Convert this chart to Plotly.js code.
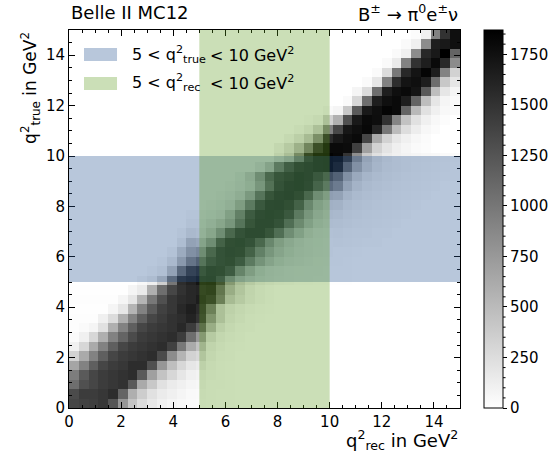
<!DOCTYPE html>
<html><head><meta charset="utf-8">
<script src="https://cdn.plot.ly/plotly-3.0.1.min.js"></script>
<style>html,body{margin:0;padding:0;background:#fff}#chart{width:550px;height:466px}</style>
</head><body><div id="chart"></div>
<script>
// ---- data ----
const nBins = 40;
const binWidth = 0.375;           // GeV^2, both axes 0..15
const trueWindow = [5, 10];       // blue band (q2_true)
const recWindow = [5, 10];        // green band (q2_rec)
const colorbarTicks = [0, 250, 500, 750, 1000, 1250, 1500, 1750];
const zMax = 1870;
// first non-empty rec bin of each q2_true row
const rowStart = [0,0,0,0,0,0,0,0,0,0,0,0,0,7,8,9,10,11,11,12,12,14,15,16,17,19,21,21,22,23,24,26,28,29,30,31,32,33,34,35];
// counts per row (q2_true bin), starting at rowStart
const rowValues = [
  [1356,1393,1415,1466,1246,770,440,257,169,110,73,51,37,30,15,10,5],
  [1319,1429,1429,1466,1539,1136,586,367,220,147,110,73,45,40,20,10,5],
  [1063,1283,1356,1429,1466,1503,1209,623,403,220,147,110,73,60,25,12,5],
  [953,1209,1356,1429,1466,1503,1539,1209,696,440,293,183,110,90,35,15,6],
  [660,916,1173,1356,1429,1466,1539,1539,1283,770,477,293,183,150,50,20,8],
  [330,623,916,1173,1356,1429,1466,1503,1539,1319,843,550,330,279,80,30,12],
  [110,293,623,916,1173,1356,1429,1466,1503,1539,1393,990,623,447,120,50,20,8],
  [37,110,293,586,916,1136,1319,1429,1466,1503,1539,1429,1063,755,220,90,40,15],
  [15,37,73,220,586,916,1173,1356,1429,1466,1503,1576,1429,1180,542,170,70,30,12],
  [15,15,15,110,257,586,916,1173,1356,1429,1503,1539,1613,1496,807,330,120,60,25,10],
  [7,7,7,7,73,183,550,916,1209,1393,1466,1576,1649,1554,1019,330,150,80,40,20,10],
  [15,15,15,15,15,73,183,550,990,1283,1466,1539,1576,1657,1554,1019,381,220,110,50,25],
  [5,5,5,5,5,5,73,147,586,1063,1356,1503,1576,1605,1657,1129,542,279,117,50,25],
  [50,120,360,1000,1540,1620,1720,1750,1450,750,380,220,130,80,50,35,25,15,10,8,6,4],
  [30,80,400,1050,1440,1550,1720,1700,1500,850,450,200,110,70,45,30,20,15,10,8,6],
  [30,150,500,900,1100,1500,1650,1700,1500,1000,600,350,200,120,80,50,30,20,15,10],
  [50,300,600,700,1300,1650,1720,1700,1400,900,550,320,190,120,80,50,35,25,15,10],
  [100,400,350,700,1400,1700,1740,1650,1300,800,450,260,150,90,60,45,50,40,30,25,20],
  [40,150,120,300,700,1300,1650,1750,1760,1600,1200,700,400,170,80,60,70,55,45,35,25,18],
  [60,60,150,300,550,1100,1600,1750,1760,1650,1200,750,400,200,120,100,80,60,50,40,30,20],
  [30,30,60,120,400,900,1500,1720,1770,1740,1550,1000,550,280,170,150,100,80,60,50,40,30,20],
  [30,60,150,450,1000,1550,1750,1780,1700,1400,800,400,250,230,140,100,80,60,50,40,30,20],
  [30,70,180,500,1100,1600,1760,1790,1700,1300,700,450,400,220,140,100,80,60,50,40,30,20],
  [30,80,200,550,1150,1650,1780,1800,1720,1350,1000,830,400,220,140,100,80,60,50,40,30,20],
  [60,250,700,1300,1600,1700,1800,1750,1550,1300,1100,600,330,200,140,100,80,65,50,40,30,25,20],
  [100,350,1000,1450,1700,1750,1820,1850,1700,1100,600,330,190,130,100,80,60,50,40,30,25],
  [150,350,900,1600,1820,1850,1815,1488,830,396,227,150,110,90,70,60,50,40,30],
  [80,220,490,967,1554,1800,1800,1780,1400,700,330,200,120,70,40,20],
  [60,169,381,858,1554,1686,1759,1796,1356,623,330,183,110,60,30],
  [40,117,330,916,1350,1700,1760,1810,1600,1000,500,250,130,60,30],
  [20,66,330,570,1283,1686,1796,1770,1500,900,450,220,110,55,25],
  [40,73,403,1209,1686,1759,1833,1796,1136,513,220,110,51,37],
  [37,293,1063,1649,1759,1796,1649,1136,477,183,73,37],
  [73,257,1063,1649,1759,1796,1723,1209,477,183,73],
  [37,183,916,1539,1723,1759,1649,1063,403,183],
  [37,257,990,1576,1723,1833,1649,916,330],
  [37,147,916,1503,1649,1796,1576,843],
  [40,110,843,1576,1686,1870,1136],
  [37,110,843,1649,1686,1759],
  [20,110,916,1503,1759]
];
const axisTicks = [0, 2, 4, 6, 8, 10, 12, 14];

// ---- build matrix ----
const z = rowValues.map((vals, i) => {
  const row = new Array(nBins).fill(0);
  vals.forEach((v, k) => { row[rowStart[i] + k] = v; });
  return row;
});

const FONT = 'DejaVu Sans, Liberation Sans, sans-serif';
const blueFill = 'rgba(40,85,145,0.33)';
const greenFill = 'rgba(94,156,31,0.32)';

const trace = {
  type: 'heatmap', z: z,
  x0: binWidth / 2, dx: binWidth, y0: binWidth / 2, dy: binWidth,
  zmin: 0, zmax: zMax, zsmooth: false,
  colorscale: [[0, '#ffffff'], [1, '#000000']],
  hoverinfo: 'skip',
  colorbar: {
    x: 1.0614, xanchor: 'left', xref: 'paper', y: 0.5, yanchor: 'middle',
    len: 1, lenmode: 'fraction', thickness: 19, thicknessmode: 'pixels',
    xpad: 0, ypad: 0, outlinewidth: 1, outlinecolor: 'black',
    tickmode: 'array', tickvals: colorbarTicks, ticks: 'outside', ticklen: 4,
    tickwidth: 1, tickcolor: 'black', tickfont: {family: FONT, size: 15, color: 'black'}
  }
};

const axisCommon = {
  range: [0, 15], tickmode: 'array', tickvals: axisTicks, ticks: 'inside',
  ticklen: 6, tickwidth: 1, tickcolor: 'black', showline: true, linecolor: 'black',
  linewidth: 1, mirror: 'allticks', showgrid: false, zeroline: false,
  tickfont: {family: FONT, size: 15, color: 'black'},
  minor: {dtick: 0.5, tick0: 0, ticks: 'inside', ticklen: 3, tickwidth: 1, tickcolor: 'black', showgrid: false}
};

const shapes = [
  {type: 'rect', xref: 'paper', x0: 0, x1: 1, yref: 'y', y0: trueWindow[0], y1: trueWindow[1],
   fillcolor: blueFill, line: {width: 0}, layer: 'above'},
  {type: 'rect', xref: 'x', x0: recWindow[0], x1: recWindow[1], yref: 'paper', y0: 0, y1: 1,
   fillcolor: greenFill, line: {width: 0}, layer: 'above'},
  // legend patches
  {type: 'rect', xref: 'paper', yref: 'paper', x0: 0.0384, x1: 0.1228, y0: 0.918, y1: 0.9524,
   fillcolor: blueFill, line: {width: 0}, layer: 'above'},
  {type: 'rect', xref: 'paper', yref: 'paper', x0: 0.0384, x1: 0.1228, y0: 0.8413, y1: 0.8757,
   fillcolor: greenFill, line: {width: 0}, layer: 'above'}
];
// minor ticks of the colour bar
for (let v = 50; v < zMax; v += 50) {
  if (v % 250 === 0) continue;
  shapes.push({type: 'line', xref: 'paper', yref: 'paper', x0: 1.110, x1: 1.1165,
    y0: v / zMax, y1: v / zMax, line: {color: 'black', width: 1}});
}

const ann = (text, x, y, xanchor, size, extra) => Object.assign({
  text: text, xref: 'paper', yref: 'paper', x: x, y: y, xanchor: xanchor, yanchor: 'middle',
  showarrow: false, font: {family: FONT, size: size, color: 'black'}
}, extra || {});

const annotations = [
  ann('Belle II MC12', 0, 1.045, 'left', 18),
  ann('B<sup>±</sup> → π<sup>0</sup>e<sup>±</sup>ν', 1, 1.045, 'right', 18),
  ann('q<sup>2</sup><sub>rec</sub> in GeV<sup>2</sup>', 1, -0.085, 'right', 18),
  ann('q<sup>2</sup><sub>true</sub> in GeV<sup>2</sup>', -0.1, 1, 'center', 17, {textangle: -90, yanchor: 'top'}),
  ann('5 &lt; q<sup>2</sup><sub>true</sub>', 0.156, 0.936, 'left', 16),
  ann('&lt; 10 GeV<sup>2</sup>', 0.356, 0.936, 'left', 16),
  ann('5 &lt; q<sup>2</sup><sub>rec</sub>', 0.156, 0.860, 'left', 16),
  ann('&lt; 10 GeV<sup>2</sup>', 0.356, 0.860, 'left', 16)
];

const layout = {
  width: 550, height: 466,
  margin: {l: 69, r: 90, t: 30, b: 58, pad: 0, autoexpand: false},
  paper_bgcolor: 'white', plot_bgcolor: 'white',
  font: {family: FONT, size: 15, color: 'black'},
  xaxis: Object.assign({}, axisCommon, {automargin: false}),
  yaxis: Object.assign({}, axisCommon, {automargin: false}),
  shapes: shapes, annotations: annotations, showlegend: false
};

Plotly.newPlot('chart', [trace], layout, {displayModeBar: false, staticPlot: true});
</script>
</body></html>
